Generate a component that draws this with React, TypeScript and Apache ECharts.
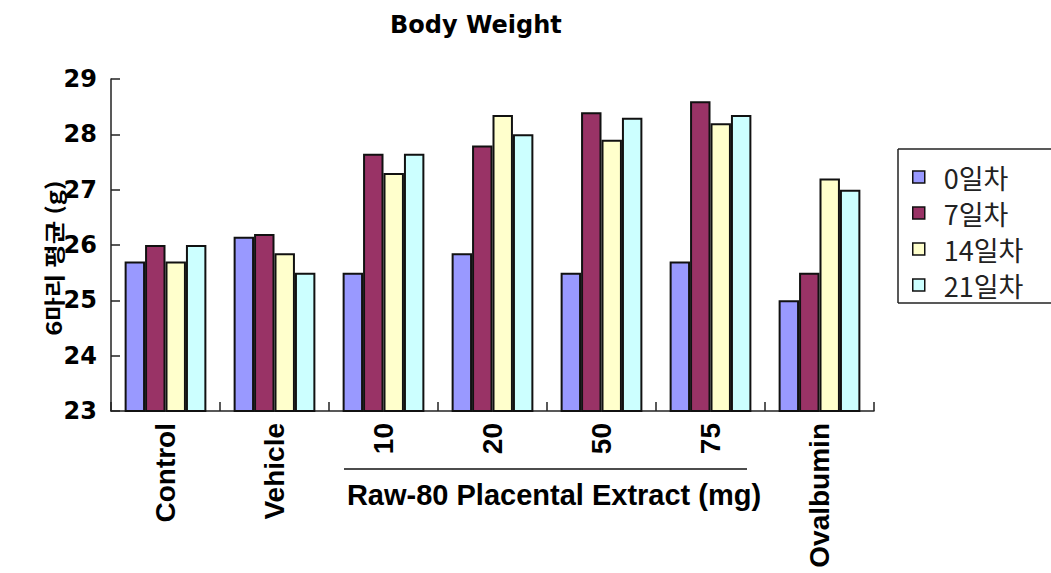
import React, { useEffect, useRef } from "react";
import * as echarts from "echarts";

// Group labels along the x axis
const categories = ["Control", "Vehicle", "10", "20", "50", "75", "Ovalbumin"];

// Mean body weight (g) of six animals per group, by measurement day
const seriesNames = ["0일차", "7일차", "14일차", "21일차"];
const day0 = [25.7, 26.15, 25.5, 25.85, 25.5, 25.7, 25.0];
const day7 = [26.0, 26.2, 27.65, 27.8, 28.4, 28.6, 25.5];
const day14 = [25.7, 25.85, 27.3, 28.35, 27.9, 28.2, 27.2];
const day21 = [26.0, 25.5, 27.65, 28.0, 28.3, 28.35, 27.0];

const seriesColors = ["#9999FF", "#993366", "#FFFFCC", "#CCFFFF"];

const yMin = 23;
const yMax = 29;
const yStep = 1;

const BOLD_WIDE = "DejaVu Sans";
const BOLD_NARROW = "Liberation Sans";

const frameStyle = { stroke: "#222", lineWidth: 1.5 };

export default function App() {
  const ref = useRef<HTMLDivElement>(null);

  useEffect(() => {
    document.body.style.margin = "0";
    document.body.style.overflow = "hidden";
    if (!ref.current) return;
    const chart = echarts.init(ref.current, undefined, { renderer: "svg" });

    const values = [day0, day7, day14, day21];

    chart.setOption({
      animation: false,
      backgroundColor: "#ffffff",
      title: {
        text: "Body Weight",
        left: 385,
        top: 8,
        textStyle: {
          fontFamily: BOLD_WIDE,
          fontWeight: "bold",
          fontSize: 24,
          color: "#000",
        },
      },
      legend: {
        data: seriesNames,
        orient: "vertical",
        left: 898,
        top: 149,
        padding: [13, 0, 3, 14],
        itemGap: 6,
        itemWidth: 12,
        itemHeight: 12,
        borderWidth: 0,
        icon: "rect",
        itemStyle: { borderColor: "#111", borderWidth: 1.5 },
        textStyle: {
          fontFamily: "Noto Sans CJK KR",
          fontSize: 27,
          lineHeight: 30,
          color: "#222",
          padding: [0, 0, 0, 14],
        },
      },
      grid: {
        left: 111,
        right: 177,
        top: 79,
        bottom: 162,
        containLabel: false,
      },
      xAxis: {
        type: "category",
        data: categories,
        axisLine: { show: true, lineStyle: { color: "#222", width: 1.5 } },
        axisTick: {
          show: true,
          inside: true,
          length: 9,
          lineStyle: { color: "#222", width: 1.5 },
        },
        axisLabel: {
          interval: 0,
          rotate: 90,
          margin: 12,
          fontFamily: BOLD_NARROW,
          fontWeight: "bold",
          fontSize: 28,
          color: "#000",
        },
        splitLine: { show: false },
      },
      yAxis: {
        type: "value",
        min: yMin,
        max: yMax,
        interval: yStep,
        axisLine: { show: true, lineStyle: { color: "#222", width: 1.5 } },
        axisTick: {
          show: true,
          inside: true,
          length: 9,
          lineStyle: { color: "#222", width: 1.5 },
        },
        axisLabel: {
          margin: 14,
          fontFamily: BOLD_WIDE,
          fontWeight: "bold",
          fontSize: 24,
          color: "#000",
        },
        splitLine: { show: false },
      },
      series: seriesNames.map((name, i) => ({
        name,
        type: "bar",
        data: values[i],
        barGap: "0%",
        barCategoryGap: "25%",
        itemStyle: {
          color: seriesColors[i],
          borderColor: "#111",
          borderWidth: 2,
        },
      })),
      graphic: [
        // legend frame: top, left and bottom edges (it runs off the right side)
        { type: "line", shape: { x1: 898, y1: 149, x2: 1060, y2: 149 }, style: frameStyle },
        { type: "line", shape: { x1: 898, y1: 149, x2: 898, y2: 303 }, style: frameStyle },
        { type: "line", shape: { x1: 898, y1: 303, x2: 1060, y2: 303 }, style: frameStyle },
        {
          type: "text",
          x: 53,
          y: 258,
          rotation: Math.PI / 2,
          scaleX: 1.22,
          style: {
            text: "6마리 평균 (g)",
            fontFamily: "Noto Sans CJK KR",
            fontWeight: "bold",
            fontSize: 21,
            fill: "#000",
            align: "center",
            verticalAlign: "middle",
          },
        },
        {
          type: "line",
          shape: { x1: 344, y1: 469, x2: 747, y2: 469 },
          style: { stroke: "#111", lineWidth: 1.5 },
        },
        {
          type: "text",
          x: 554,
          y: 495,
          style: {
            text: "Raw-80 Placental Extract (mg)",
            fontFamily: BOLD_NARROW,
            fontWeight: "bold",
            fontSize: 29,
            fill: "#000",
            align: "center",
            verticalAlign: "middle",
          },
        },
      ],
    });

    return () => chart.dispose();
  }, []);

  return (
    <div
      ref={ref}
      style={{ width: 1051, height: 573, position: "absolute", left: 0, top: 0 }}
    />
  );
}
